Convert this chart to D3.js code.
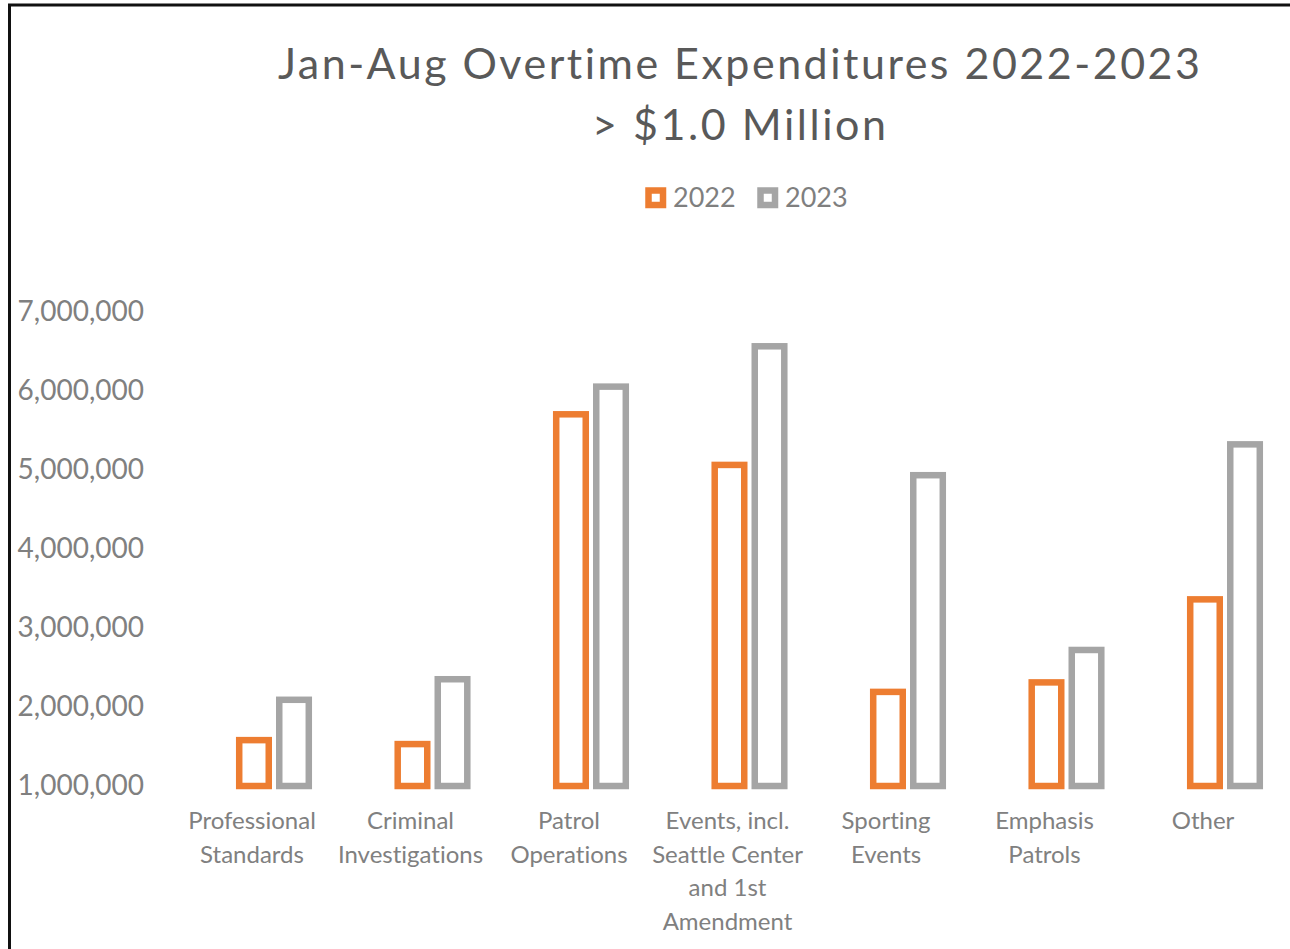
<!DOCTYPE html>
<html>
<head>
<meta charset="utf-8">
<script src="https://cdn.jsdelivr.net/npm/d3@7"></script>
<style>
  body { margin: 0; background: #fff; }
  svg { display: block; font-family: Lato, "Open Sans", sans-serif; font-variant-ligatures: none; }
</style>
</head>
<body>
<svg id="chart" width="1290" height="949"></svg>
<script>
const width = 1290, height = 949;

// data
const categories = [
    "Professional Standards", "Criminal Investigations", "Patrol Operations",
    "Events, incl. Seattle Center and 1st Amendment", "Sporting Events",
    "Emphasis Patrols", "Other"
];
const categoryLines = [
    ["Professional", "Standards"],
    ["Criminal", "Investigations"],
    ["Patrol", "Operations"],
    ["Events, incl.", "Seattle Center", "and 1st", "Amendment"],
    ["Sporting", "Events"],
    ["Emphasis", "Patrols"],
    ["Other"]
];
const seriesNames = ["2022", "2023"];
const values2022 = [1580000, 1530000, 5700000, 5060000, 2190000, 2310000, 3360000];
const values2023 = [2090000, 2350000, 6050000, 6560000, 4930000, 2720000, 5320000];
const yTicks = [1000000, 2000000, 3000000, 4000000, 5000000, 6000000, 7000000];

const colors = { "2022": "#ED7D31", "2023": "#A5A5A5" };
const strokeW = 6.5;

const data = categories.map((c, i) => ({
    category: c,
    lines: categoryLines[i],
    values: [
        { series: "2022", value: values2022[i] },
        { series: "2023", value: values2023[i] }
    ]
}));

const svg = d3.select("#chart");

// chart border (right/bottom edges cropped off in the reference)
svg.append("rect")
    .attr("x", 9.5).attr("y", 5)
    .attr("width", 1400).attr("height", 1000)
    .attr("fill", "none")
    .attr("stroke", "#111")
    .attr("stroke-width", 3);

const x0 = d3.scaleBand()
    .domain(categories)
    .range([194.75, 1304.25])
    .paddingInner(0.52)
    .paddingOuter(0.26);

const x1 = d3.scaleBand()
    .domain(seriesNames)
    .range([0, x0.bandwidth()])
    .paddingInner(0.1);

const y = d3.scaleLinear()
    .domain([1000000, 7000000])
    .range([786, 311.5]);

// y axis, labels only
const yAxis = svg.append("g")
    .attr("transform", "translate(144,0)")
    .call(d3.axisLeft(y).tickValues(yTicks).tickSize(0).tickPadding(0).tickFormat(d3.format(",")));
yAxis.select(".domain").remove();
yAxis.selectAll("text")
    .style("font-family", "Lato, sans-serif")
    .style("font-size", "28px")
    .style("fill", "#808080");

// bars
const groups = svg.append("g")
    .selectAll("g")
    .data(data)
    .enter()
    .append("g")
    .attr("transform", d => `translate(${x0(d.category)},0)`);

groups.selectAll("rect")
    .data(d => d.values)
    .enter()
    .append("rect")
    .attr("x", d => x1(d.series) + strokeW / 2)
    .attr("width", x1.bandwidth() - strokeW)
    .attr("y", d => y(d.value))
    .attr("height", d => y(1000000) - y(d.value))
    .attr("fill", "#fff")
    .attr("stroke", d => colors[d.series])
    .attr("stroke-width", strokeW);

// category labels (sit a little left of their bars, as in the reference)
const labelDx = -22;
groups.append("text")
    .attr("text-anchor", "middle")
    .style("font-size", "24px")
    .style("fill", "#808080")
    .selectAll("tspan")
    .data(d => d.lines)
    .enter()
    .append("tspan")
    .attr("x", x0.bandwidth() / 2 + labelDx)
    .attr("y", (d, i) => 829 + i * 33.7)
    .text(d => d);

// title
const title = svg.append("g")
    .attr("text-anchor", "middle")
    .style("fill", "#595959")
    .style("font-size", "43px");
title.append("text")
    .attr("x", 739).attr("y", 79)
    .attr("textLength", 922)
    .attr("lengthAdjust", "spacing")
    .text("Jan-Aug Overtime Expenditures 2022-2023");
title.append("text")
    .attr("x", 739).attr("y", 140)
    .attr("textLength", 294)
    .attr("lengthAdjust", "spacing")
    .text("> $1.0 Million");

// legend
const legendX = [648.5, 760.5];
const legend = svg.append("g")
    .selectAll("g")
    .data(seriesNames)
    .enter()
    .append("g")
    .attr("transform", (d, i) => `translate(${legendX[i]},190.5)`);

legend.append("rect")
    .attr("width", 14.5).attr("height", 14.5)
    .attr("fill", "#fff")
    .attr("stroke", d => colors[d])
    .attr("stroke-width", strokeW);

legend.append("text")
    .attr("x", 24.5)
    .attr("y", 7.5)
    .attr("dy", "0.35em")
    .style("font-size", "27px")
    .style("fill", "#7f7f7f")
    .text(d => d);
</script>
</body>
</html>
